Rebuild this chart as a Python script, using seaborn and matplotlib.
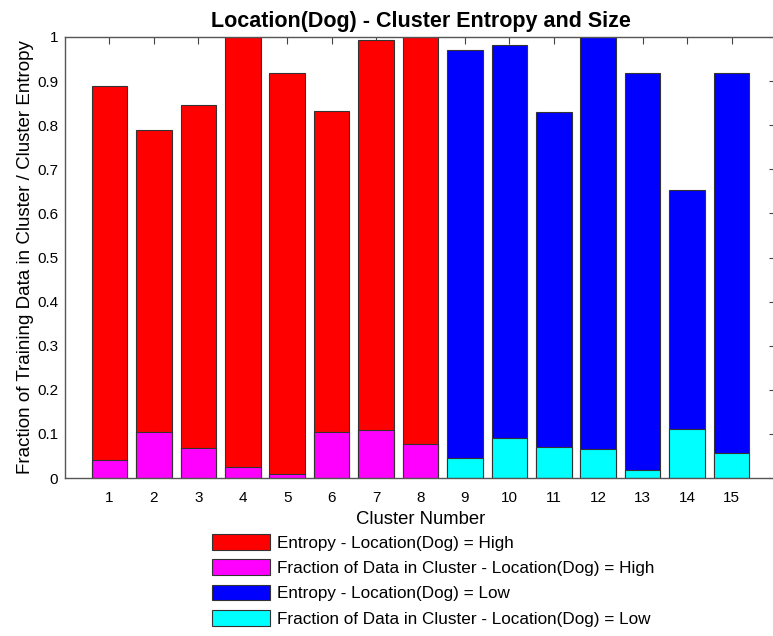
import matplotlib
matplotlib.use("Agg")
import matplotlib.pyplot as plt
from matplotlib.patches import Patch
import seaborn as sns
import pandas as pd

# ---- data ----
clusters_high = [1, 2, 3, 4, 5, 6, 7, 8]
entropy_high = [0.890, 0.788, 0.845, 1.0, 0.918, 0.833, 0.993, 1.0]
fraction_high = [0.041, 0.105, 0.069, 0.025, 0.010, 0.105, 0.109, 0.078]

clusters_low = [9, 10, 11, 12, 13, 14, 15]
entropy_low = [0.971, 0.981, 0.829, 1.0, 0.918, 0.652, 0.918]
fraction_low = [0.045, 0.090, 0.071, 0.066, 0.018, 0.112, 0.057]

labels = [
    "Entropy - Location(Dog) = High",
    "Fraction of Data in Cluster - Location(Dog) = High",
    "Entropy - Location(Dog) = Low",
    "Fraction of Data in Cluster - Location(Dog) = Low",
]
colors = ["#ff0000", "#ff00ff", "#0000ff", "#00ffff"]
y_ticks = [0, 0.1, 0.2, 0.3, 0.4, 0.5, 0.6, 0.7, 0.8, 0.9, 1]
x_ticks = list(range(1, 16))

sns.set_style("white")
plt.rcParams["font.family"] = ["Liberation Sans", "DejaVu Sans"]
plt.rcParams["text.color"] = "black"
plt.rcParams["axes.labelcolor"] = "black"
plt.rcParams["xtick.labelcolor"] = "black"
plt.rcParams["ytick.labelcolor"] = "black"

W, H = 773, 636
fig = plt.figure(figsize=(W / 100, H / 100), dpi=100)
ax = fig.add_axes([65 / W, 1 - 478 / H, (776 - 65) / W, (478 - 37) / H])

series = [
    (clusters_high, entropy_high, colors[0]),
    (clusters_high, fraction_high, colors[1]),
    (clusters_low, entropy_low, colors[2]),
    (clusters_low, fraction_low, colors[3]),
]
for xs, ys, c in series:
    df = pd.DataFrame({"cluster": xs, "value": ys})
    sns.barplot(data=df, x="cluster", y="value", native_scale=True, width=0.8,
                color=c, saturation=1, edgecolor="#333333", linewidth=0.8,
                errorbar=None, ax=ax)

ax.set_xlim(0, 16)
ax.set_ylim(0, 1)
ax.set_xticks(x_ticks)
ax.set_xticklabels([str(v) for v in x_ticks])
ax.set_yticks(y_ticks)
ax.set_yticklabels(["%g" % v for v in y_ticks])
ax.tick_params(direction="in", length=5, width=0.8, color="#444444",
               labelcolor="black", top=True, right=True, labelsize=11, pad=5)
ax.tick_params(axis="x", pad=9)
for s in ax.spines.values():
    s.set_visible(True)
    s.set_color("#555555")
    s.set_linewidth(1.0)

ax.set_xlabel("Cluster Number", fontsize=13.3, labelpad=5, color="black")
ax.set_ylabel("Fraction of Training Data in Cluster / Cluster Entropy",
              fontsize=13.5, labelpad=2, color="black")
ax.set_title("Location(Dog) - Cluster Entropy and Size", fontsize=15.5,
             fontweight="bold", pad=7, color="black")

handles = [Patch(facecolor=c, edgecolor="#333333", linewidth=0.8) for c in colors]
fig.legend(handles, labels, loc="upper left",
           bbox_to_anchor=(212 / W, 1 - 534 / H), bbox_transform=fig.transFigure,
           frameon=False, fontsize=12.3, handlelength=3.4, handleheight=1.05,
           handletextpad=0.38, labelspacing=0.5, borderpad=0, borderaxespad=0)

fig.savefig("out.png", dpi=100)
